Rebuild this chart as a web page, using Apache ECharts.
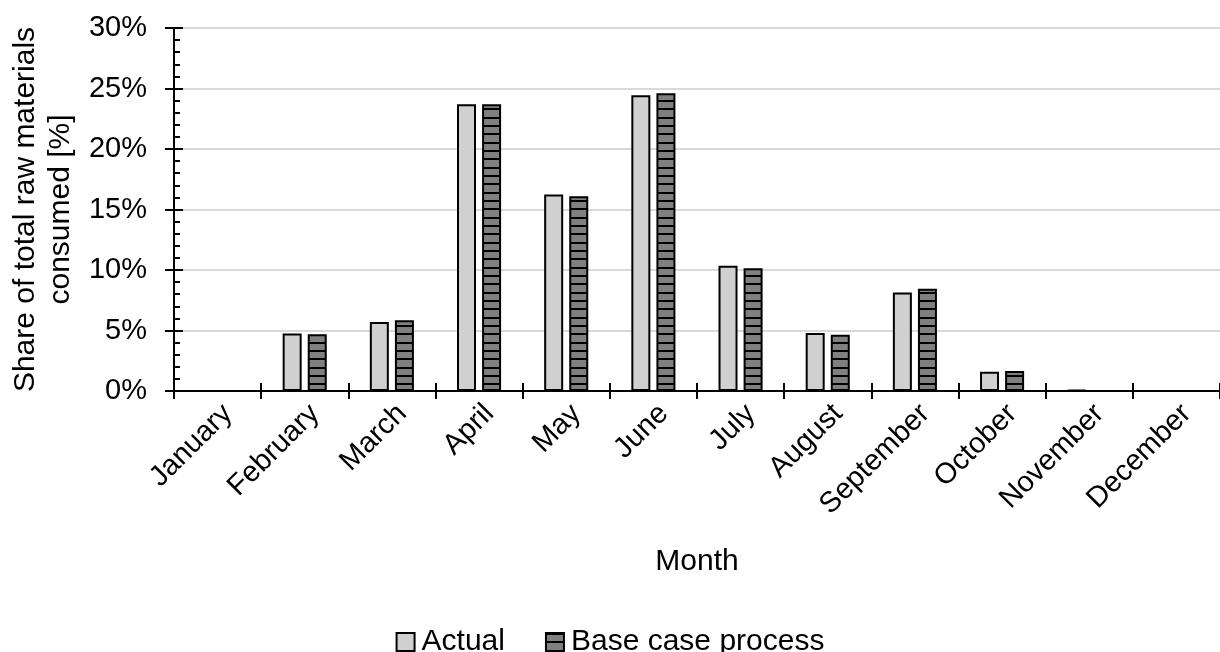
<!DOCTYPE html>
<html>
<head>
<meta charset="utf-8">
<script src="https://cdn.jsdelivr.net/npm/echarts@6/dist/echarts.min.js"></script>
<style>
  html, body { margin: 0; padding: 0; background: #fff; }
  #chart { width: 1220px; height: 652px; }
</style>
</head>
<body>
<div id="chart"></div>
<script>
// ---- Data ----
const months = ['January', 'February', 'March', 'April', 'May', 'June', 'July', 'August', 'September', 'October', 'November', 'December'];
const actual = [0, 4.75, 5.7, 23.7, 16.25, 24.45, 10.35, 4.8, 8.15, 1.6, 0.1, 0];
const baseCase = [0, 4.7, 5.85, 23.7, 16.1, 24.6, 10.15, 4.65, 8.45, 1.65, 0, 0];
const seriesNames = ['Actual', 'Base case process'];
const yTicks = { min: 0, max: 30, interval: 5 };

// ---- Stripe pattern for base case bars ----
const pat = document.createElement('canvas');
pat.width = 8; pat.height = 25;
const pctx = pat.getContext('2d');
pctx.fillStyle = '#808080';
pctx.fillRect(0, 0, 8, 25);
pctx.fillStyle = '#000000';
[0, 8, 17].forEach(function (y) { pctx.fillRect(0, y, 8, 2); });

const FONT = 'Liberation Sans, Arial, sans-serif';
const chart = echarts.init(document.getElementById('chart'), null, { renderer: 'canvas' });

chart.setOption({
  animation: false,
  backgroundColor: '#ffffff',
  textStyle: { fontFamily: FONT, color: '#000' },
  grid: { left: 171, top: 28, right: -7, bottom: 261 },
  legend: {
    data: seriesNames,
    left: 'center',
    top: 622,
    icon: 'rect',
    itemWidth: 18,
    itemHeight: 18,
    itemGap: 40,
    textStyle: { fontSize: 30, color: '#000', fontFamily: FONT, padding: [0, 0, 0, 2] }
  },
  xAxis: [
    {
      type: 'category',
      data: months,
      position: 'bottom',
      name: 'Month',
      nameLocation: 'middle',
      nameGap: 156,
      nameTextStyle: { fontSize: 30, color: '#000', fontFamily: FONT },
      axisLine: { show: true, lineStyle: { color: '#000', width: 2 } },
      axisTick: { show: true, length: 8, lineStyle: { color: '#000', width: 2 } },
      axisLabel: { rotate: 45, fontSize: 29, color: '#000', margin: 8, verticalAlign: 'top', align: 'right', fontFamily: FONT, interval: 0 },
      splitLine: { show: false }
    },
    {
      type: 'category',
      data: months,
      position: 'bottom',
      axisLine: { show: false },
      axisTick: { show: true, inside: true, length: 8, lineStyle: { color: '#000', width: 2 } },
      axisLabel: { show: false },
      splitLine: { show: false }
    }
  ],
  yAxis: [
    {
      type: 'value',
      position: 'left',
      min: yTicks.min, max: yTicks.max, interval: yTicks.interval,
      name: 'Share of total raw materials\nconsumed [%]',
      nameLocation: 'middle',
      nameGap: 90,
      nameRotate: 90,
      nameTextStyle: { fontSize: 30, color: '#000', fontFamily: FONT, lineHeight: 35, align: 'center' },
      axisLine: { show: true, lineStyle: { color: '#000', width: 2 } },
      axisTick: { show: true, length: 9, lineStyle: { color: '#000', width: 2 } },
      axisLabel: { fontSize: 29, color: '#000', margin: 27, fontFamily: FONT, formatter: '{value}%' },
      splitLine: { show: true, lineStyle: { color: '#d9d9d9', width: 2 } }
    },
    {
      type: 'value',
      position: 'left',
      min: yTicks.min, max: yTicks.max, interval: yTicks.interval,
      axisLine: { show: false },
      axisTick: { show: true, inside: true, length: 9, lineStyle: { color: '#000', width: 2 } },
      minorTick: { show: true, splitNumber: 5, length: 6, lineStyle: { color: '#000', width: 2 } },
      axisLabel: { show: false },
      splitLine: { show: false }
    }
  ],
  series: [
    {
      name: seriesNames[0],
      type: 'bar',
      xAxisIndex: 0, yAxisIndex: 0,
      data: actual,
      barWidth: 19,
      barGap: '32%',
      itemStyle: { color: '#d0d0d0', borderColor: '#000', borderWidth: 2 }
    },
    {
      name: seriesNames[1],
      type: 'bar',
      xAxisIndex: 0, yAxisIndex: 0,
      data: baseCase,
      barWidth: 19,
      barGap: '32%',
      itemStyle: { color: { image: pat, repeat: 'repeat' }, borderColor: '#000', borderWidth: 2 }
    }
  ]
});
</script>
</body>
</html>
